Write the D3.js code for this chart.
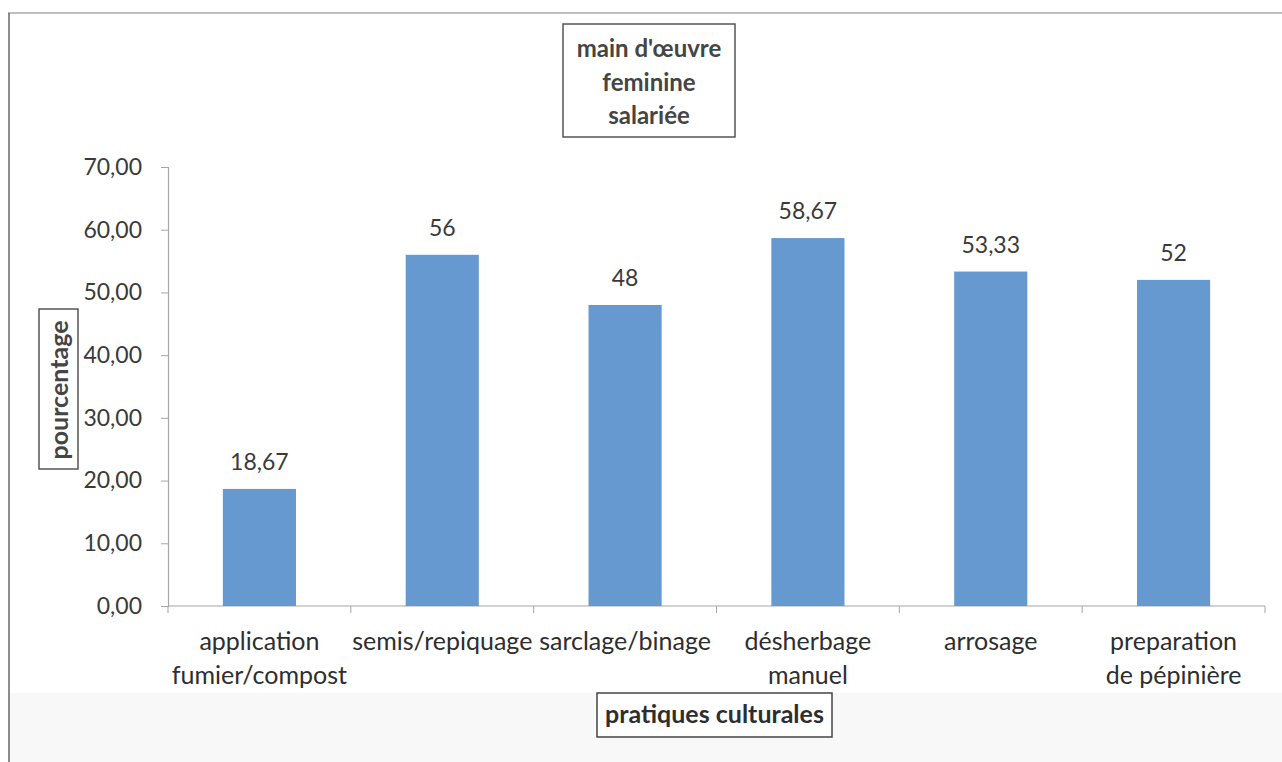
<!DOCTYPE html>
<html>
<head>
<meta charset="utf-8">
<script src="https://cdn.jsdelivr.net/npm/d3@7"></script>
<style>
  html, body { margin: 0; padding: 0; background: #fff; }
  svg { display: block; }
  text { font-family: Lato, "Open Sans", sans-serif; }
</style>
</head>
<body>
<svg id="chart" width="1282" height="762"></svg>
<script>
// Pratiques culturales – part de la main d'œuvre féminine salariée (%)
const categories = [
  ["application", "fumier/compost"],
  ["semis/repiquage"],
  ["sarclage/binage"],
  ["désherbage", "manuel"],
  ["arrosage"],
  ["preparation", "de pépinière"]
];
const values = [18.67, 56, 48, 58.67, 53.33, 52];
const valueLabels = ["18,67", "56", "48", "58,67", "53,33", "52"];
const yTicks = [0, 10, 20, 30, 40, 50, 60, 70];
const titleLines = ["main d'œuvre", "feminine", "salariée"];
const yTitle = "pourcentage";
const xTitle = "pratiques culturales";

const svg = d3.select("#chart");
const W = 1282, H = 762;

// background: light band under the plot, outer frame edges
svg.append("rect").attr("x", 0).attr("y", 0).attr("width", W).attr("height", H).attr("fill", "#ffffff");
svg.append("rect").attr("x", 9).attr("y", 693).attr("width", W - 9).attr("height", H - 693).attr("fill", "#f8f8f8");
svg.append("line").attr("x1", 8).attr("x2", W).attr("y1", 13).attr("y2", 13)
  .attr("stroke", "#aaa").attr("stroke-width", 1.5);
svg.append("line").attr("x1", 9).attr("x2", 9).attr("y1", 13).attr("y2", H)
  .attr("stroke", "#666").attr("stroke-width", 1.5);

const plot = { left: 168, right: 1265, top: 167, bottom: 606 };

const x = d3.scaleBand()
  .domain(d3.range(categories.length))
  .range([plot.left, plot.right])
  .paddingInner(0.6)
  .paddingOuter(0.3);

const y = d3.scaleLinear().domain([0, 70]).range([plot.bottom, plot.top]);

const fmt = d => d3.format(".2f")(d).replace(".", ",");

// y axis
const yAxis = svg.append("g")
  .attr("transform", `translate(${plot.left},0)`)
  .call(d3.axisLeft(y).tickValues(yTicks).tickFormat(fmt).tickSize(7).tickPadding(19));
yAxis.select(".domain").attr("stroke", "#a6a6a6").attr("stroke-width", 1.2);
yAxis.selectAll(".tick line").attr("stroke", "#a6a6a6");
yAxis.selectAll(".tick text").attr("fill", "#3a3a3a")
  .style("font-size", "23px").style("font-family", "Lato, sans-serif");

// x axis with tick marks between the bands
const xBoundaries = d3.range(categories.length + 1)
  .map(i => plot.left + i * (plot.right - plot.left) / categories.length);
const xAxisG = svg.append("g");
xAxisG.append("line")
  .attr("x1", plot.left).attr("x2", plot.right)
  .attr("y1", plot.bottom).attr("y2", plot.bottom)
  .attr("stroke", "#a6a6a6").attr("stroke-width", 1.2);
xAxisG.selectAll("line.tick").data(xBoundaries).join("line")
  .attr("class", "tick")
  .attr("x1", d => d).attr("x2", d => d)
  .attr("y1", plot.bottom).attr("y2", plot.bottom + 7)
  .attr("stroke", "#a6a6a6");

// bars
svg.append("g").selectAll("rect").data(values).join("rect")
  .attr("x", (d, i) => x(i))
  .attr("width", x.bandwidth())
  .attr("y", d => y(d))
  .attr("height", d => y(0) - y(d))
  .attr("fill", "#6699cf");

// value labels
svg.append("g").selectAll("text").data(values).join("text")
  .attr("x", (d, i) => x(i) + x.bandwidth() / 2)
  .attr("y", d => y(d) - 19)
  .attr("text-anchor", "middle")
  .attr("fill", "#3a3a3a")
  .style("font-size", "23px")
  .text((d, i) => valueLabels[i]);

// category labels
const catG = svg.append("g").selectAll("text").data(categories).join("text")
  .attr("x", (d, i) => x(i) + x.bandwidth() / 2)
  .attr("y", 650)
  .attr("text-anchor", "middle")
  .attr("fill", "#2e2e2e")
  .style("font-size", "25px");
catG.selectAll("tspan").data(d => d).join("tspan")
  .attr("x", function () { return d3.select(this.parentNode).attr("x"); })
  .attr("dy", (d, i) => i === 0 ? 0 : 34)
  .text(d => d);

// chart title box
svg.append("rect").attr("x", 563).attr("y", 24).attr("width", 172).attr("height", 113)
  .attr("fill", "#fff").attr("stroke", "#555").attr("stroke-width", 1.5);
svg.append("g").selectAll("text").data(titleLines).join("text")
  .attr("x", 649)
  .attr("y", (d, i) => 57 + i * 33.5)
  .attr("text-anchor", "middle")
  .attr("fill", "#454545")
  .style("font-size", "24px").style("font-weight", "bold")
  .text(d => d);

// y axis title box
svg.append("rect").attr("x", 39).attr("y", 309).attr("width", 39).attr("height", 160)
  .attr("fill", "#fff").attr("stroke", "#555").attr("stroke-width", 1.5);
svg.append("text")
  .attr("transform", "translate(68,390) rotate(-90)")
  .attr("text-anchor", "middle")
  .attr("fill", "#454545")
  .style("font-size", "25px").style("font-weight", "bold")
  .text(yTitle);

// x axis title box
svg.append("rect").attr("x", 597).attr("y", 693).attr("width", 235).attr("height", 44)
  .attr("fill", "#fff").attr("stroke", "#444").attr("stroke-width", 1.5);
svg.append("text")
  .attr("x", 714.5).attr("y", 723)
  .attr("text-anchor", "middle")
  .attr("fill", "#2e2e2e")
  .style("font-size", "25px").style("font-weight", "bold")
  .text(xTitle);
</script>
</body>
</html>
